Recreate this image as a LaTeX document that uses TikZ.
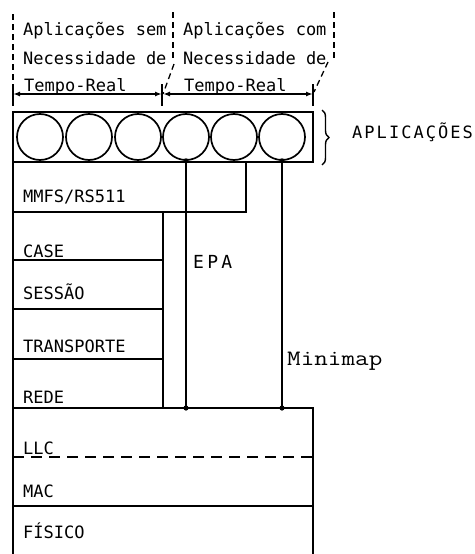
\documentclass[tikz,border=0pt]{standalone}
\usepackage{fontspec}
\newfontfamily\dmono{DejaVu Sans Mono}
\newfontfamily\dmonosp[LetterSpace=12]{DejaVu Sans Mono}
\newfontfamily\dmonoepa[LetterSpace=18]{DejaVu Sans Mono}
\usetikzlibrary{decorations.pathreplacing,arrows.meta}
\begin{document}
\begin{tikzpicture}[x=1pt,y=-1pt,
  lw/.style={line width=1.9pt},
  lay/.style={draw, line width=1.9pt, inner sep=0pt, outer sep=0pt, anchor=north west},
  circ/.style={draw, circle, line width=1.7pt, minimum size=46pt, inner sep=0pt},
  lbl/.style={font=\dmono\fontsize{17}{17}\selectfont, anchor=base west, inner sep=0pt},
  sep/.style={line width=1.3pt, dash pattern=on 6pt off 4pt},
  dim/.style={line width=1.6pt, {Latex[length=7pt,width=5pt]}-{Latex[length=7pt,width=5pt]}},
  dot/.style={fill=black}]
\useasboundingbox[fill=white] (0,0) rectangle (474,554);

% layer boxes
\node[lay, minimum width=300pt, minimum height=50pt] (app) at (13,112) {};
\node[lay, minimum width=233pt, minimum height=50pt] (mmfs) at (13,162) {};
\node[lay, minimum width=150pt, minimum height=48pt] (case) at (13,212) {};
\node[lay, minimum width=150pt, minimum height=49pt] (sessao) at (13,260) {};
\node[lay, minimum width=150pt, minimum height=50pt] (transp) at (13,309) {};
\node[lay, minimum width=150pt, minimum height=49pt] (rede) at (13,359) {};
\node[lay, minimum width=300pt, minimum height=98pt] (enlace) at (13,408) {};
\node[lay, minimum width=300pt, minimum height=60pt] (fisico) at (13,506) {};
\draw[line width=1.8pt, dash pattern=on 11pt off 7pt] (13,457) -- (313,457);

% applications
\node[circ] (c1) at (40,137) {};
\node[circ] (c2) at (89,137) {};
\node[circ] (c3) at (138,137) {};
\node[circ] (c4) at (186,137) {};
\node[circ] (c5) at (234,137) {};
\node[circ] (c6) at (282,137) {};

% connectors
\draw[lw] (c4.south) -- (c4.south |- enlace.north) coordinate (e4);
\draw[lw] (c6.south) -- (c6.south |- enlace.north) coordinate (e6);
\fill[dot] (c4.south) circle (2.6pt);
\fill[dot] (e4) circle (2.6pt);
\fill[dot] (c6.south) circle (2.6pt);
\fill[dot] (e6) circle (2.6pt);

% layer labels
\node[lbl] (tmmfs) at (23,202) {MMFS/RS511};
\node[lbl] (tcase) at (23,257) {CASE};
\node[lbl] (tses) at (23,299) {SESSÃO};
\node[lbl] (ttr) at (23,352) {TRANSPORTE};
\node[lbl] (tred) at (23,403) {REDE};
\node[lbl] (tllc) at (23,454) {LLC};
\node[lbl] (tmac) at (23,497) {MAC};
\node[lbl] (tfis) at (23,538) {FÍSICO};
\node[lbl, font=\dmonoepa\fontsize{18}{18}\selectfont] (tepa) at (193,268) {EPA};
\node[anchor=base west, inner sep=0pt, font=\ttfamily\fontsize{22}{22}\selectfont] (tmini) at (287,365) {\scalebox{1.2}[1]{Minimap}};

% brace + APLICACOES
\draw[line width=1.4pt, decorate, decoration={brace, amplitude=7pt}] (322,110) coordinate (b1) -- (322,165) coordinate (b2);
\node[lbl, font=\dmonosp\fontsize{17}{17}\selectfont] (tapl) at (352,138) {APLICAÇÕES};

% top annotations
\node[lbl] (a1) at (23,35) {Aplicações sem};
\node[lbl] (a2) at (23,64) {Necessidade de};
\node[lbl] (a3) at (24,91) {Tempo-Real};
\node[lbl] (b1t) at (183,35) {Aplicações com};
\node[lbl] (b2t) at (183,64) {Necessidade de};
\node[lbl] (b3t) at (184,91) {Tempo-Real};

% dashed separators
\draw[sep] (13,14) -- (13,85);
\draw[sep] (173,12) -- (173,58);
\draw[sep] (174,64) -- (163,94);
\draw[sep] (334,12) -- (334,58);
\draw[sep] (328,62) -- (314,92);

% dimension lines
\coordinate (k1) at (13,94);
\coordinate (k2) at (162,94);
\coordinate (k3) at (313,94);
\draw[lw] (13,84) -- (13,106);
\draw[lw] (162,84) -- (162,106);
\draw[lw] (313,84) -- (313,106);
\draw[dim] (k1) -- (k2);
\draw[dim] ([xshift=1pt]k2) -- (k3);
\end{tikzpicture}
\end{document}
